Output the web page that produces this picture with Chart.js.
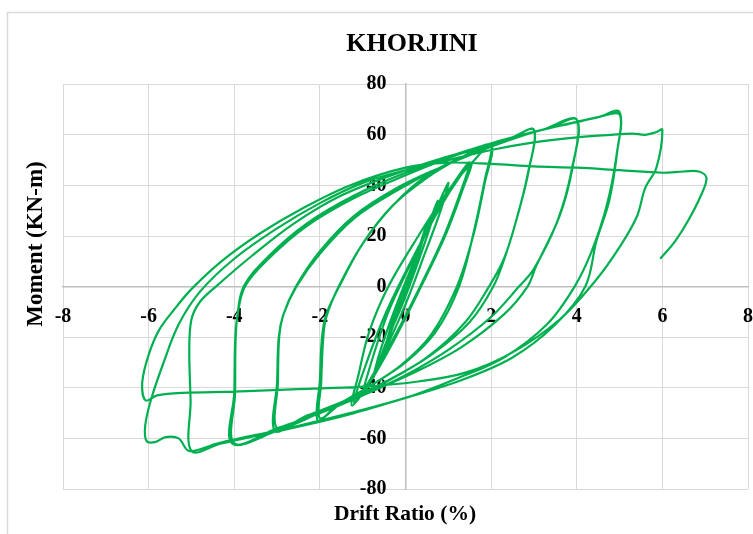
<!DOCTYPE html>
<html>
<head>
<meta charset="utf-8">
<script src="https://cdn.jsdelivr.net/npm/chart.js@4.4.0/dist/chart.umd.min.js"></script>
<style>
  html, body { margin: 0; padding: 0; background: #fff; }
  #wrap { position: relative; width: 753px; height: 534px; overflow: hidden; }
  canvas { display: block; }
</style>
</head>
<body>
<div id="wrap"><canvas id="chart" width="765" height="534"></canvas></div>
<script>
// Axis ticks
const driftTicks = [-8, -6, -4, -2, 0, 2, 4, 6, 8];
const momentTicks = [-80, -60, -40, -20, 0, 20, 40, 60, 80];

// Hysteresis path [drift %, moment kN-m], in loading order
const cyclesSmall = [
  [0, 0], [0.15, 7], [0.3, 15],
  [0.2, 9], [0, 0], [-0.2, -9], [-0.3, -15],
  [-0.2, -8], [0, 1], [0.25, 12], [0.5, 25],
  [0.38, 17], [0.15, 5], [-0.15, -9], [-0.4, -21], [-0.5, -27],
  [-0.38, -18], [-0.1, -3], [0.25, 12], [0.55, 25], [0.75, 34],
  [0.6, 25], [0.3, 10], [-0.05, -6], [-0.45, -22], [-0.75, -36],
  [-0.6, -26], [-0.25, -9], [0.2, 10], [0.65, 28], [1.0, 41],
  [0.82, 30], [0.45, 13], [0, -7], [-0.5, -26], [-1.0, -43],
  [-0.8, -30], [-0.4, -10], [0.15, 10], [0.8, 32], [1.25, 44], [1.5, 49],
  [1.3, 38], [0.9, 20], [0.4, 2], [-0.2, -18], [-0.8, -36], [-1.2, -46],
  [-0.95, -32], [-0.5, -12], [0.1, 9], [0.8, 31], [1.25, 43], [1.55, 49],
  [1.35, 39], [0.95, 21], [0.45, 3], [-0.2, -19], [-0.8, -37], [-1.25, -47]
];

const cycles2 = [
  [-1.1, -35], [-0.85, -18], [-0.4, 0], [0.3, 20], [1.0, 38], [1.5, 48], [2.0, 56],
  [1.85, 42], [1.6, 22], [1.25, 0], [0.7, -18], [0, -30], [-0.8, -39], [-1.5, -46], [-2.0, -52],
  [-1.97, -38], [-1.92, -20], [-1.85, -12], [-1.56, 0], [-1.0, 17], [-0.3, 32], [0.5, 43], [1.3, 51], [2.0, 56],
  [1.85, 41], [1.58, 20], [1.2, 0], [0.6, -19], [-0.1, -31], [-0.9, -40], [-1.6, -47], [-2.05, -53],
  [-2.0, -37], [-1.95, -20], [-1.85, -11], [-1.55, 0], [-1.0, 17], [-0.3, 32], [0.5, 44], [1.3, 51], [2.0, 56], [2.5, 59], [3.0, 62]
];

const cycles3 = [
  [2.88, 46], [2.65, 30], [2.35, 13], [2.05, 0], [1.5, -14], [0.6, -27], [-0.4, -37], [-1.4, -45], [-2.3, -51], [-3.0, -56],
  [-2.98, -38], [-2.95, -20], [-2.85, -11], [-2.56, 0], [-2.0, 14], [-1.2, 28], [-0.2, 39], [0.8, 47], [1.8, 54], [2.5, 59], [3.0, 62],
  [2.85, 44], [2.6, 27], [2.3, 11], [1.95, 0], [1.4, -14], [0.5, -28], [-0.5, -38], [-1.5, -46], [-2.4, -52], [-3.05, -57],
  [-3.0, -38], [-2.96, -20], [-2.85, -11], [-2.55, 0], [-2.0, 13], [-1.2, 27], [-0.2, 38], [0.8, 47], [1.8, 54], [2.8, 60], [3.4, 63], [4.0, 66]
];

const cycles4 = [
  [3.9, 47], [3.6, 28], [3.05, 8], [2.85, 0], [2.3, -11], [1.3, -24], [0.2, -34], [-1.0, -43], [-2.0, -50], [-3.0, -56], [-4.0, -62],
  [-3.98, -42], [-3.97, -22], [-3.93, -12], [-3.78, 0], [-3.2, 12], [-2.3, 25], [-1.2, 36], [0, 45], [1.2, 52], [2.3, 58], [3.2, 62], [4.0, 66],
  [3.88, 46], [3.55, 26], [3.0, 7], [2.65, 0], [2.0, -12], [1.0, -25], [0, -35], [-1.0, -43], [-2.0, -50], [-3.0, -57], [-4.05, -62],
  [-4.0, -42], [-3.98, -22], [-3.93, -12], [-3.75, 0], [-3.2, 11], [-2.3, 24], [-1.2, 35], [0, 44], [1.2, 52], [2.3, 58], [3.2, 62], [4.0, 65], [4.5, 67], [5.0, 68]
];

const cycles5 = [
  [4.95, 54], [4.76, 34], [4.46, 18], [4.2, 0], [3.5, -15], [2.5, -28], [1.3, -37], [0, -44], [-1.2, -50], [-2.4, -55], [-3.5, -59], [-4.3, -62], [-5.0, -65],
  [-5.02, -45], [-5.05, -25], [-5.0, -13], [-4.8, -6], [-4.43, 0], [-3.6, 12], [-2.6, 25], [-1.5, 36], [0, 46], [1.3, 53], [2.5, 59], [3.7, 64], [4.5, 67], [5.0, 69],
  [4.93, 52], [4.7, 32], [4.35, 14], [3.95, 0], [3.3, -15], [2.3, -28], [1.1, -37], [0, -44], [-1.3, -50], [-2.5, -55], [-3.6, -59], [-4.4, -62], [-5.05, -65],
  [-5.3, -60], [-5.6, -59.5], [-5.85, -61.5], [-6.05, -61],
  [-6.08, -55], [-5.95, -45], [-5.65, -30], [-5.3, -15], [-4.8, -2], [-4.0, 11], [-3.0, 23], [-2.0, 33], [-1.0, 41], [0, 46], [1.0, 50], [2.0, 54], [3.0, 57], [4.0, 59], [4.8, 60], [5.3, 60.5], [5.6, 60], [5.85, 61], [6.0, 62]
];

const cycles6 = [
  [5.86, 47], [5.6, 39], [5.4, 27.5], [5.0, 15.6], [4.45, 2.6], [3.6, -13], [2.5, -26], [1.4, -34], [0.3, -37.5], [-1.0, -39.5], [-2.5, -40.5], [-4.0, -41.5], [-5.2, -42], [-5.8, -43], [-6.07, -45],
  [-6.15, -38], [-6.0, -27], [-5.75, -17], [-5.4, -9], [-5.0, -1], [-4.3, 10], [-3.4, 21], [-2.4, 31], [-1.3, 40], [0, 47], [1, 49], [2, 48.5], [3, 47.5], [4, 47], [5, 46], [6, 45], [6.5, 45.5], [6.85, 45.5], [7.03, 43],
  [6.9, 36], [6.6, 26], [6.3, 18], [5.95, 11]
];

const path = [...cyclesSmall, ...cycles2, ...cycles3, ...cycles4, ...cycles5, ...cycles6];

const serif = "'Liberation Serif', 'Times New Roman', serif";

// Frame + axis titles drawn on the canvas
const decor = {
  id: 'decor',
  beforeDraw(chart) {
    const ctx = chart.ctx;
    ctx.save();
    ctx.fillStyle = '#fff';
    ctx.fillRect(0, 0, chart.width, chart.height);
    ctx.strokeStyle = '#d9d9d9';
    ctx.lineWidth = 1.5;
    ctx.strokeRect(7.5, 12.5, 800, 600);
    ctx.restore();
  },
  afterDraw(chart) {
    const ctx = chart.ctx;
    ctx.save();
    ctx.fillStyle = '#000';
    ctx.font = 'bold 21.5px ' + serif;
    ctx.textAlign = 'center';
    ctx.textBaseline = 'middle';
    ctx.fillText('Drift Ratio (%)', 405, 514);
    ctx.font = 'bold 23px ' + serif;
    ctx.translate(36, 244);
    ctx.rotate(-Math.PI / 2);
    ctx.fillText('Moment (KN-m)', 0, 0);
    ctx.restore();
  }
};

new Chart(document.getElementById('chart'), {
  type: 'scatter',
  data: {
    datasets: [{
      data: path.map(p => ({ x: p[0], y: p[1] })),
      showLine: true,
      borderColor: '#00b050',
      borderWidth: 2.2,
      pointRadius: 0,
      tension: 0.35,
      fill: false
    }]
  },
  options: {
    responsive: false,
    animation: false,
    layout: { padding: { left: 63, right: 4, top: 0, bottom: 45 } },
    plugins: {
      legend: { display: false },
      tooltip: { enabled: false },
      title: {
        display: true,
        text: 'KHORJINI',
        color: '#000',
        font: { family: serif, size: 26, weight: 'bold' },
        padding: { top: 29, bottom: 24 }
      }
    },
    scales: {
      x: {
        type: 'linear',
        position: 'center',
        min: driftTicks[0],
        max: driftTicks[driftTicks.length - 1],
        afterBuildTicks: s => { s.ticks = driftTicks.map(v => ({ value: v })); },
        grid: { color: '#d9d9d9', lineWidth: 1, tickLength: 6 },
        border: { color: '#bfbfbf', width: 1.5 },
        ticks: { color: '#000', font: { family: serif, size: 20, weight: 'bold' }, padding: 12, maxRotation: 0 }
      },
      y: {
        type: 'linear',
        position: 'center',
        min: momentTicks[0],
        max: momentTicks[momentTicks.length - 1],
        afterBuildTicks: s => { s.ticks = momentTicks.map(v => ({ value: v })); },
        grid: { color: '#d9d9d9', lineWidth: 1, tickLength: 6 },
        border: { color: '#bfbfbf', width: 1.5 },
        ticks: { color: '#000', font: { family: serif, size: 20, weight: 'bold' }, padding: 13 }
      }
    }
  },
  plugins: [decor]
});
</script>
</body>
</html>
